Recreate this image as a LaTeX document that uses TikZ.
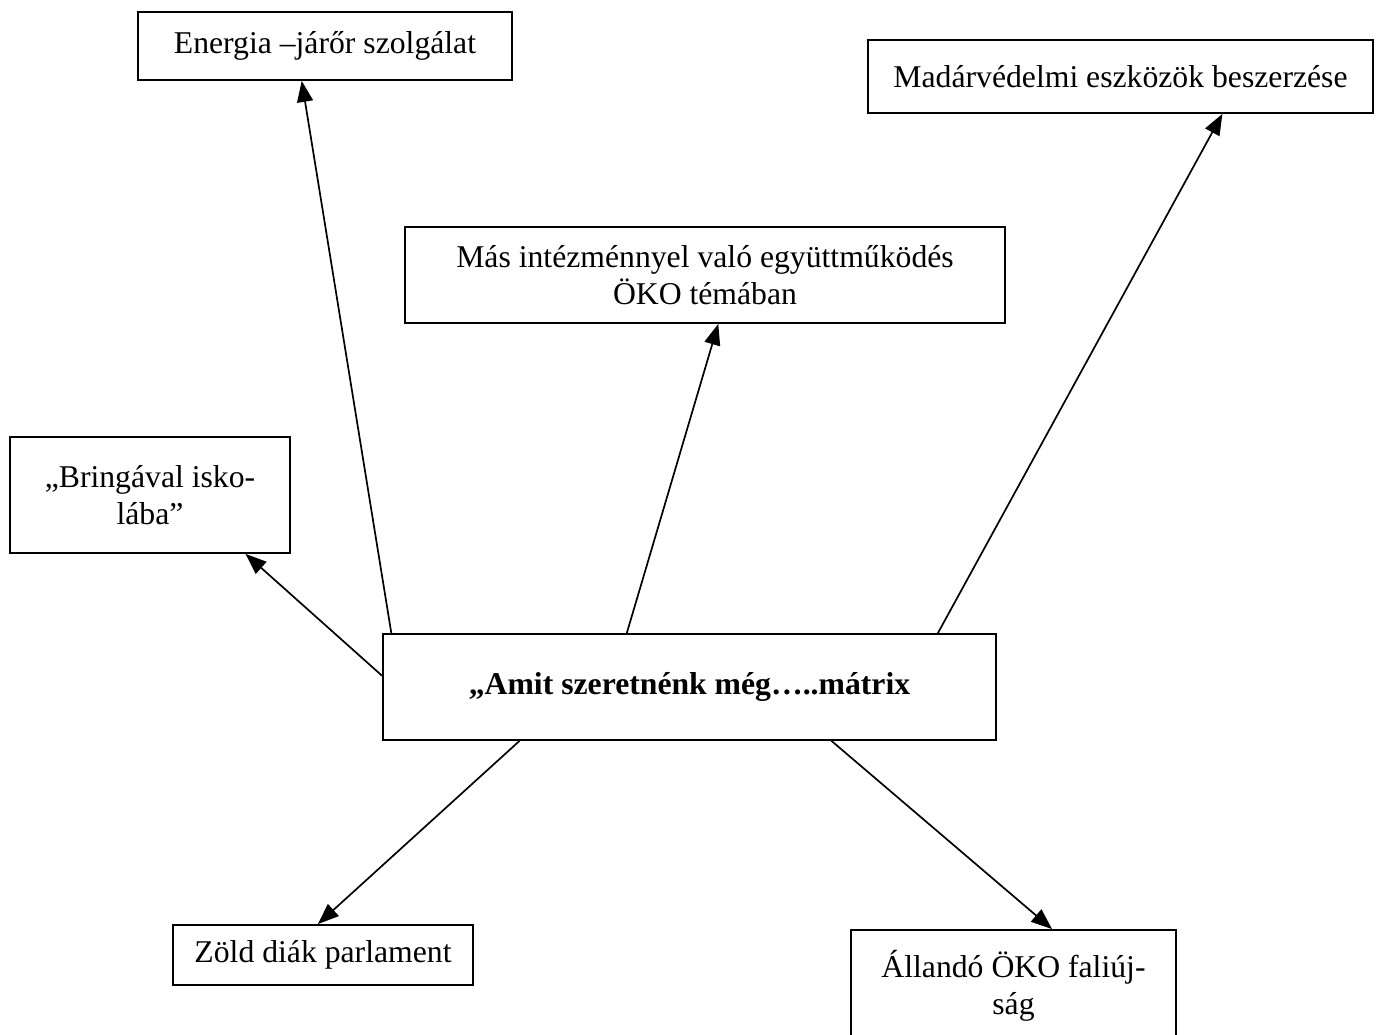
\documentclass[tikz,border=0pt]{standalone}
\usepackage{fontspec}
\setmainfont{Liberation Serif}
\usetikzlibrary{arrows.meta,calc}
\tikzset{
box/.style={rectangle, draw=black, line width=1.8pt, align=center, inner sep=0pt, font=\fontsize{31.7}{36.5}\selectfont},
arrow/.style={line width=1.7pt,-{Triangle[length=21pt,width=16pt]}},
}

\begin{document}
\begin{tikzpicture}[x=1pt,y=-1pt]
\clip (0,0) rectangle (1381,1035);
\node[box, minimum width=613, minimum height=106] (matrix) at (689.5,687) {\textbf{„Amit szeretnénk még…..mátrix}};
\node[box, minimum width=374, minimum height=68] (energia) at (325,46) {Energia –járőr szolgálat};
\node[box, minimum width=505, minimum height=73] (madarvedelem) at (1120.5,76.5) {Madárvédelmi eszközök beszerzése};
\node[box, minimum width=600, minimum height=96] (egyuttmukodes) at (705,275) {Más intézménnyel való együttműködés\\ÖKO témában};
\node[box, minimum width=280, minimum height=116] (bringa) at (150,495) {„Bringával isko-\\lába”};
\node[box, minimum width=300, minimum height=60] (parlament) at (323,955) {Zöld diák parlament};
\node[box, minimum width=325, minimum height=112] (faliujsag) at (1013.5,986) {Állandó ÖKO faliúj-\\ság};

\draw [arrow] ($(matrix.north west)!0.015!(matrix.north east)$) -- ($(energia.south west)!0.438!(energia.south east)$);
\draw [arrow] ($(matrix.north west)!0.398!(matrix.north east)$) -- ($(egyuttmukodes.south west)!0.522!(egyuttmukodes.south east)$);
\draw [arrow] ($(matrix.north west)!0.904!(matrix.north east)$) -- ($(madarvedelem.south west)!0.701!(madarvedelem.south east)$);
\draw [arrow] ($(matrix.north west)!0.396!(matrix.south west)$) -- ($(bringa.south west)!0.839!(bringa.south east)$);
\draw [arrow] ($(matrix.south west)!0.2235!(matrix.south east)$) -- ($(parlament.north west)!0.483!(parlament.north east)$);
\draw [arrow] ($(matrix.south west)!0.731!(matrix.south east)$) -- ($(faliujsag.north west)!0.618!(faliujsag.north east)$);
\end{tikzpicture}
\end{document}
